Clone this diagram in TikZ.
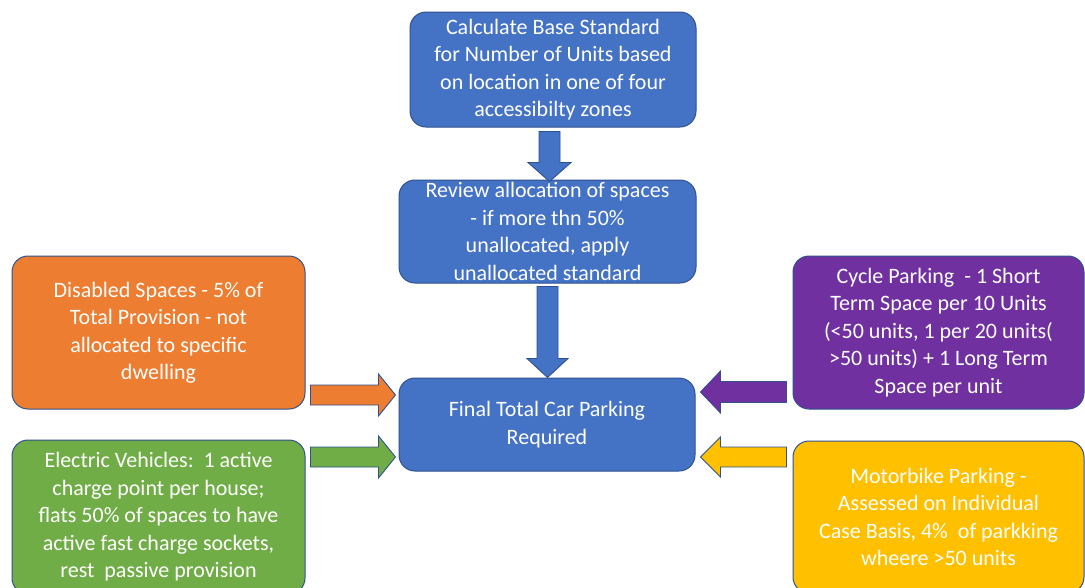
\documentclass[tikz,border=0pt]{standalone}
\usepackage{fontspec}
\setmainfont{Carlito}
\usetikzlibrary{calc}
\definecolor{cblue}{HTML}{4472C4}
\definecolor{corange}{HTML}{ED7D31}
\definecolor{cgreen}{HTML}{70AD47}
\definecolor{cpurple}{HTML}{7030A0}
\definecolor{cyellow}{HTML}{FFC000}
\definecolor{cline}{HTML}{2F528F}
\tikzset{
  box/.style={draw=cline, line width=1pt, rounded corners=16pt, text=white,
    align=center, inner sep=0pt, font=\fontsize{22}{27.5}\selectfont},
  blockarrow/.style={draw=cline, line width=0.9pt},
}
\begin{document}
\begin{tikzpicture}[x=1pt,y=-1pt]
\useasboundingbox (0,0) rectangle (1085,587);
\clip (0,0) rectangle (1085,587);
\fill[white] (0,0) rectangle (1085,587);
% boxes
\node[box, fill=cblue, minimum width=286pt, minimum height=115pt] (base) at (553,69.5)
  {Calculate Base Standard\\for Number of Units based\\on location in one of four\\accessibilty zones};
\node[box, fill=cblue, minimum width=297pt, minimum height=103pt] (review) at (547.5,231.5)
  {Review allocation of spaces\\- if more thn 50\%\\unallocated, apply\\unallocated standard};
\node[box, fill=cblue, minimum width=296pt, minimum height=93pt] (final) at (547,424.5)
  {Final Total Car Parking\\Required};
\node[box, fill=corange, minimum width=293pt, minimum height=153pt] (disabled) at (158.5,332.5)
  {Disabled Spaces - 5\% of\\Total Provision - not\\allocated to specific\\dwelling};
\node[box, fill=cgreen, minimum width=293pt, minimum height=154pt] (ev) at (158.5,517)
  {Electric Vehicles:\ \ 1 active\\charge point per house;\\flats 50\% of spaces to have\\active fast charge sockets,\\rest\ \ passive provision};
\node[box, fill=cpurple, minimum width=291pt, minimum height=153pt] (cycle) at (938.5,332.5)
  {Cycle Parking\ \ - 1 Short\\Term Space per 10 Units\\(<50 units, 1 per 20 units(\\>50 units) + 1 Long Term\\Space per unit};
\node[box, fill=cyellow, minimum width=291pt, minimum height=152pt] (moto) at (938.5,517)
  {Motorbike Parking -\\Assessed on Individual\\Case Basis, 4\%\ \ of parkking\\wheere >50 units};
% down arrows
\coordinate (d1a) at (549.5,0 |- base.south);
\coordinate (d1b) at (549.5,0 |- review.north);
\draw[blockarrow, fill=cblue]
  ($(d1a)+(-10.5,4)$) -- ($(d1a)+(10.5,4)$) -- ($(d1b)+(10.5,-17)$)
  -- ($(d1b)+(21.5,-17)$) -- ($(d1b)+(0,2)$) -- ($(d1b)+(-21.5,-17)$)
  -- ($(d1b)+(-10.5,-17)$) -- cycle;
\coordinate (d2a) at (547.5,0 |- review.south);
\coordinate (d2b) at (547.5,0 |- final.north);
\draw[blockarrow, fill=cblue]
  ($(d2a)+(-10.5,3)$) -- ($(d2a)+(10.5,3)$) -- ($(d2b)+(10.5,-19)$)
  -- ($(d2b)+(20.5,-19)$) -- ($(d2b)+(0,0)$) -- ($(d2b)+(-20.5,-19)$)
  -- ($(d2b)+(-10.5,-19)$) -- cycle;
% right arrows (left side)
\coordinate (oa) at (disabled.east |- 0,395);
\coordinate (ob) at (final.west |- 0,395);
\draw[blockarrow, fill=corange]
  ($(oa)+(5,-10)$) -- ($(ob)+(-20,-10)$) -- ($(ob)+(-20,-21)$) -- ($(ob)+(-3,0)$)
  -- ($(ob)+(-20,21)$) -- ($(ob)+(-20,10)$) -- ($(oa)+(5,10)$) -- cycle;
\coordinate (ga) at (ev.east |- 0,457);
\coordinate (gb) at (final.west |- 0,457);
\draw[blockarrow, fill=cgreen]
  ($(ga)+(5,-10)$) -- ($(gb)+(-20,-10)$) -- ($(gb)+(-20,-21)$) -- ($(gb)+(-3,0)$)
  -- ($(gb)+(-20,21)$) -- ($(gb)+(-20,10)$) -- ($(ga)+(5,10)$) -- cycle;
% left arrows (right side)
\coordinate (pa) at (cycle.west |- 0,392);
\coordinate (pb) at (final.east |- 0,392);
\draw[blockarrow, fill=cpurple]
  ($(pa)+(-6,-10.5)$) -- ($(pb)+(25,-10.5)$) -- ($(pb)+(25,-21)$) -- ($(pb)+(5,0)$)
  -- ($(pb)+(25,21)$) -- ($(pb)+(25,10.5)$) -- ($(pa)+(-6,10.5)$) -- cycle;
\coordinate (ya) at (moto.west |- 0,457);
\coordinate (yb) at (final.east |- 0,457);
\draw[blockarrow, fill=cyellow]
  ($(ya)+(-6,-10)$) -- ($(yb)+(25,-10)$) -- ($(yb)+(25,-20)$) -- ($(yb)+(5,0)$)
  -- ($(yb)+(25,20)$) -- ($(yb)+(25,10)$) -- ($(ya)+(-6,10)$) -- cycle;
\end{tikzpicture}
\end{document}
